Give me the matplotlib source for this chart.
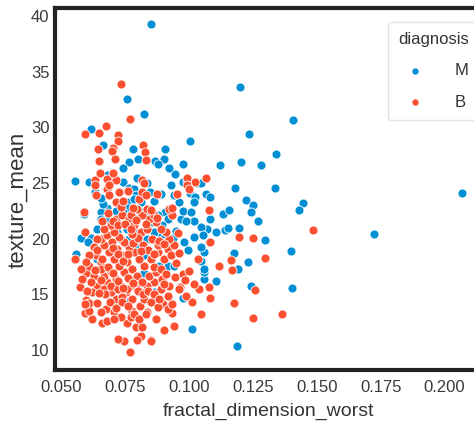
import matplotlib
matplotlib.use('Agg')
import matplotlib.pyplot as plt

# Puntos leidos a ojo del grafico (fractal_dimension_worst, texture_mean)
m_x = [0.0850, 0.1200, 0.0755, 0.0821, 0.1405, 0.1003, 0.1236, 0.1338, 0.1203, 0.1281,
       0.1120, 0.0551, 0.1337, 0.1181, 0.2068, 0.1223, 0.1249, 0.1241, 0.1444, 0.1429,
       0.1725, 0.1271, 0.1194, 0.1295, 0.1399, 0.1177, 0.1230, 0.1190, 0.1242, 0.1403,
       0.1009, 0.1189, 0.1105, 0.1059, 0.1056, 0.1046, 0.1056, 0.1046, 0.1079, 0.1104,
       0.1141, 0.1151, 0.1131, 0.1155, 0.1082, 0.1068, 0.1046, 0.1020, 0.1017, 0.1052,
       0.0978, 0.0994, 0.0936, 0.0950, 0.0967, 0.0974, 0.0958, 0.0941, 0.0928, 0.0944,
       0.0974, 0.0993, 0.1004, 0.1024, 0.1033, 0.1048, 0.1065, 0.1082, 0.1017, 0.1006,
       0.0988, 0.0974, 0.0921, 0.0902, 0.0905, 0.0866, 0.0876, 0.0836, 0.0847, 0.0862,
       0.0888, 0.0907, 0.0915, 0.0876, 0.0856, 0.0895, 0.0899, 0.0876, 0.0882, 0.0915,
       0.0941, 0.0863, 0.0823, 0.0795, 0.0801, 0.0781, 0.0764, 0.0742, 0.0740, 0.0763,
       0.0784, 0.0791, 0.0758, 0.0784, 0.0762, 0.0742, 0.0712, 0.0679, 0.0653, 0.0653,
       0.0664, 0.0653, 0.0679, 0.0664, 0.0617, 0.0607, 0.0630, 0.0588, 0.0575, 0.0614,
       0.0604, 0.0555, 0.0640, 0.0679, 0.0718, 0.0732, 0.0757, 0.0764, 0.0784, 0.0797,
       0.0823, 0.0810, 0.0836, 0.0823, 0.0791, 0.0758, 0.0640, 0.0614, 0.0863, 0.0974,
       0.1056]
m_y = [39.3, 33.6, 32.6, 31.2, 30.7, 28.8, 29.4, 27.6, 26.9, 26.6,
       26.6, 25.2, 24.6, 24.6, 24.1, 23.5, 23.0, 22.4, 23.2, 22.6,
       20.4, 21.6, 21.0, 19.9, 18.9, 18.7, 17.9, 17.3, 15.8, 15.6,
       11.9, 10.4, 16.2, 16.4, 17.0, 18.0, 18.8, 19.3, 19.7, 20.6,
       20.8, 21.0, 22.2, 22.6, 21.8, 20.9, 21.1, 21.6, 20.2, 20.3,
       19.7, 19.0, 20.1, 20.7, 21.8, 22.5, 23.3, 23.9, 24.8, 25.8,
       25.1, 25.2, 24.1, 23.8, 25.0, 25.0, 24.0, 23.8, 23.3, 22.4,
       21.6, 26.7, 26.4, 27.2, 28.1, 27.0, 26.7, 25.0, 24.2, 23.4,
       24.0, 22.4, 21.8, 22.1, 21.5, 21.2, 20.4, 20.6, 17.6, 17.6,
       17.6, 15.2, 16.9, 25.5, 27.2, 28.1, 26.9, 26.4, 25.1, 24.6,
       24.5, 23.9, 23.3, 23.6, 22.8, 22.4, 22.5, 22.8, 22.4, 21.8,
       23.1, 23.7, 25.7, 28.4, 29.9, 25.1, 24.2, 22.2, 20.1, 20.1,
       19.7, 18.6, 20.9, 21.8, 20.6, 20.0, 20.9, 20.0, 20.6, 21.8,
       22.4, 23.3, 20.0, 18.5, 19.3, 14.3, 18.2, 17.3, 20.6, 14.7,
       17.3]

b_x = [0.0732, 0.0766, 0.0590, 0.0648, 0.0675, 0.0721, 0.0719, 0.0703, 0.0696, 0.0644,
       0.0645, 0.0710, 0.0818, 0.0826, 0.0831, 0.0632, 0.0679, 0.0712, 0.0634, 0.0677,
       0.0725, 0.0760, 0.0815, 0.0823, 0.0873, 0.0953, 0.0993, 0.1022, 0.1065, 0.1076,
       0.1083, 0.1118, 0.1164, 0.1166, 0.1196, 0.1248, 0.1295, 0.1256, 0.1177, 0.1250,
       0.1362, 0.1483, 0.1046, 0.1083, 0.1079, 0.1039, 0.1017, 0.1033, 0.1009, 0.0965,
       0.0945, 0.0975, 0.0941, 0.0900, 0.0934, 0.0899, 0.0869, 0.0836, 0.0810, 0.0797,
       0.0852, 0.0768, 0.0744, 0.0719, 0.0757, 0.0790, 0.0816, 0.0660, 0.0679, 0.0620,
       0.0590, 0.0607, 0.0571, 0.0551, 0.0597, 0.0607, 0.0634, 0.0653, 0.0640, 0.0620,
       0.0597, 0.0607, 0.0640, 0.0673, 0.0705, 0.0732, 0.0712, 0.0692, 0.0679, 0.0666,
       0.0692, 0.0712, 0.0732, 0.0751, 0.0777, 0.0807, 0.0823, 0.0849, 0.0876, 0.0915,
       0.0934, 0.0915, 0.0889, 0.0862, 0.0836, 0.0810, 0.0784, 0.0764, 0.0745, 0.0725,
       0.0705, 0.0686, 0.0666, 0.0653, 0.0679, 0.0699, 0.0718, 0.0738, 0.0758, 0.0777,
       0.0797, 0.0816, 0.0843, 0.0869, 0.0895, 0.0921, 0.0902, 0.0876, 0.0849, 0.0823,
       0.0803, 0.0784, 0.0764, 0.0745, 0.0725, 0.0705, 0.0692, 0.0712, 0.0738, 0.0764,
       0.0784, 0.0810, 0.0836, 0.0856, 0.0876, 0.0915, 0.0928, 0.0941, 0.0921, 0.0908,
       0.0889, 0.0869, 0.0843, 0.0816, 0.0797, 0.0836, 0.0862, 0.0928, 0.0934, 0.0666,
       0.0640, 0.0627, 0.0607, 0.0597, 0.0627, 0.0653, 0.0666, 0.0692, 0.0719, 0.0738,
       0.0757, 0.0777, 0.0771, 0.0705, 0.0653, 0.0590, 0.0588, 0.0632, 0.0686, 0.0686,
       0.0712, 0.0732, 0.0804, 0.0816, 0.0771, 0.0993, 0.0999, 0.0921, 0.0934, 0.0960,
       0.0986, 0.0849, 0.0794, 0.0590,
       # nucleo denso
       0.0640, 0.0660, 0.0680, 0.0700, 0.0720, 0.0740, 0.0760, 0.0780, 0.0800, 0.0820,
       0.0840, 0.0860, 0.0880, 0.0900, 0.0700, 0.0720, 0.0740, 0.0760, 0.0780, 0.0800,
       0.0820, 0.0840, 0.0860, 0.0880, 0.0900, 0.0660, 0.0680, 0.0700, 0.0720, 0.0750,
       0.0775, 0.0790, 0.0830, 0.0850, 0.0875, 0.0655, 0.0670, 0.0690, 0.0715, 0.0735,
       0.0760, 0.0785, 0.0805, 0.0830, 0.0615, 0.0630, 0.0645, 0.0600, 0.0580, 0.0575,
       0.0770, 0.0810, 0.0860, 0.0890, 0.0910, 0.0950, 0.0960, 0.0955, 0.0985, 0.1000,
       0.0650, 0.0700, 0.0740, 0.0780, 0.0830]
b_y = [33.9, 30.8, 29.4, 29.5, 30.1, 29.3, 28.8, 28.2, 27.9, 28.1,
       27.0, 27.2, 28.4, 27.8, 27.1, 25.3, 25.4, 25.3, 23.9, 24.5,
       24.2, 24.3, 25.3, 25.0, 24.0, 24.0, 25.5, 25.1, 25.5, 22.6,
       19.7, 17.6, 18.1, 17.2, 20.2, 20.1, 18.3, 15.4, 14.2, 12.9,
       13.2, 20.8, 13.2, 14.7, 15.7, 15.5, 15.9, 18.2, 14.3, 15.7,
       16.6, 16.8, 12.2, 11.8, 13.3, 14.1, 12.8, 13.4, 11.3, 10.9,
       10.9, 9.8, 10.8, 11.0, 12.4, 12.1, 12.1, 12.4, 12.6, 12.8,
       13.3, 13.5, 15.7, 18.2, 16.9, 17.6, 18.5, 17.9, 15.8, 15.2,
       14.5, 14.2, 14.2, 13.7, 13.4, 13.0, 14.6, 15.2, 16.1, 16.7,
       17.0, 16.4, 15.8, 15.2, 14.6, 14.0, 14.6, 14.3, 13.9, 13.7,
       14.1, 14.9, 15.5, 16.1, 15.8, 15.2, 15.8, 16.4, 17.0, 17.6,
       18.2, 18.8, 19.4, 20.0, 20.3, 19.7, 19.1, 18.5, 17.9, 17.3,
       16.7, 16.1, 16.7, 17.0, 16.4, 15.8, 18.2, 18.8, 18.2, 17.6,
       18.2, 18.8, 19.3, 19.7, 20.2, 20.6, 21.2, 21.8, 22.1, 21.8,
       21.2, 20.6, 20.9, 20.0, 19.4, 19.1, 18.5, 19.4, 20.0, 20.6,
       20.9, 21.5, 21.8, 22.1, 22.7, 22.7, 22.1, 22.7, 22.1, 20.9,
       20.0, 19.3, 18.5, 17.9, 16.7, 17.3, 15.5, 15.8, 15.5, 14.8,
       15.5, 13.5, 13.0, 12.8, 13.4, 20.6, 22.4, 24.8, 23.9, 24.8,
       23.3, 22.9, 23.6, 24.2, 22.1, 24.8, 24.5, 22.7, 22.8, 15.5,
       14.9, 10.8, 15.5, 14.1,
       19.0, 18.2, 17.5, 16.9, 16.2, 15.6, 16.5, 16.0, 15.3, 15.0,
       15.3, 15.0, 14.6, 15.9, 19.2, 18.6, 18.0, 18.6, 19.6, 20.1,
       19.4, 19.0, 18.6, 19.8, 19.5, 21.6, 22.3, 21.6, 21.2, 21.3,
       20.4, 21.7, 21.3, 22.6, 21.9, 16.3, 15.0, 14.3, 13.8, 14.3,
       14.0, 13.2, 12.8, 13.2, 16.1, 17.2, 15.1, 15.3, 16.4, 17.3,
       20.9, 18.9, 17.5, 17.3, 16.8, 17.8, 18.7, 20.5, 16.3, 17.1,
       25.9, 25.9, 23.4, 22.8, 23.9]

x_ticks = [0.050, 0.075, 0.100, 0.125, 0.150, 0.175, 0.200]
y_ticks = [10, 15, 20, 25, 30, 35, 40]

plt.rcParams['font.family'] = ['Liberation Sans', 'DejaVu Sans']

fig = plt.figure(figsize=(4.74, 4.30), dpi=100)
ax = fig.add_axes([0.116, 0.140, 0.903, 0.842])

ax.scatter(m_x, m_y, s=42, c='#008fd5', edgecolors='white', linewidths=0.6, label='M', zorder=2)
ax.scatter(b_x, b_y, s=42, c='#fc4f30', edgecolors='white', linewidths=0.6, label='B', zorder=3)

ax.set_xlim(0.0474, 0.2151)
ax.set_ylim(8.23, 40.76)
ax.set_xticks(x_ticks)
ax.set_xticklabels(['%.3f' % t for t in x_ticks])
ax.set_yticks(y_ticks)
ax.tick_params(length=0, labelsize=12, labelcolor='#3a3a3a')
ax.tick_params(axis='x', pad=7)
ax.tick_params(axis='y', pad=4)

ax.set_xlabel('fractal_dimension_worst', fontsize=14, color='#333333', labelpad=6)
ax.set_ylabel('texture_mean', fontsize=16, color='#333333')
ax.yaxis.set_label_coords(-0.062, 0.47)

for s in ax.spines.values():
  s.set_linewidth(3)
  s.set_color('#222222')

leg = ax.legend(title='diagnosis', loc='upper right', fontsize=12, title_fontsize=12,
                markerscale=0.8, labelspacing=1.0, handletextpad=1.4, borderpad=0.6,
                frameon=True, fancybox=True, bbox_to_anchor=(1.01, 0.985))
leg.get_frame().set_edgecolor('#dddddd')
for t in leg.get_texts():
  t.set_color('#333333')
leg.get_title().set_color('#333333')

fig.savefig('out.png', dpi=100)
